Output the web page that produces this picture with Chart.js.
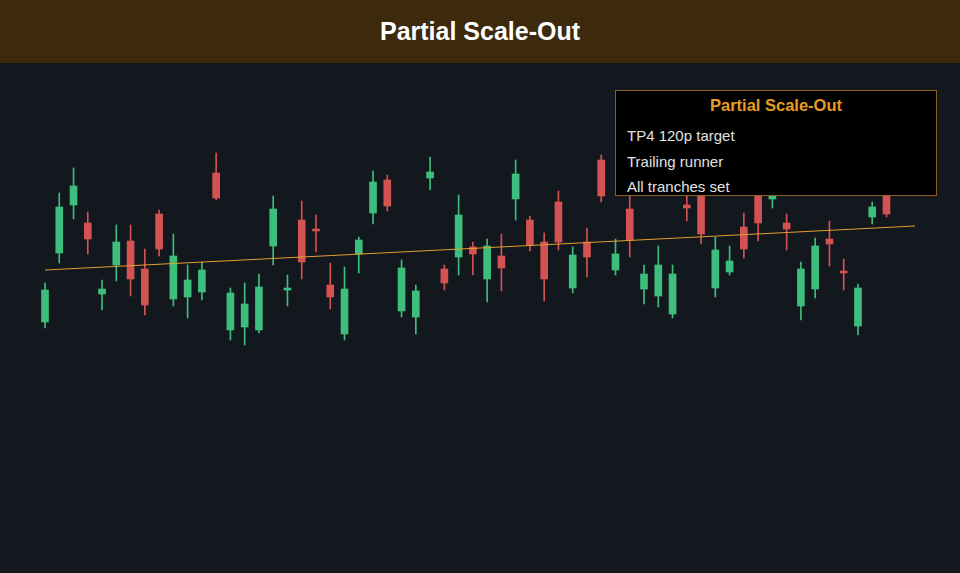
<!DOCTYPE html>
<html>
<head>
<meta charset="utf-8">
<script src="https://cdn.jsdelivr.net/npm/chart.js@4.4.1/dist/chart.umd.min.js"></script>
<style>
  html, body { margin: 0; padding: 0; background: #13171e; width: 960px; height: 573px; overflow: hidden; font-family: "Liberation Sans", Arial, sans-serif; }
  .header { position: absolute; left: 0; top: 0; width: 960px; height: 63px; background: #3d2a0d; color: #fff; font-weight: bold; font-size: 25px; text-align: center; line-height: 63px; }
  .chart-wrap { position: absolute; left: 0; top: 63px; width: 960px; height: 510px; }
  .legend-box { position: absolute; left: 615px; top: 90px; width: 320px; height: 104px; background: #000; border: 1px solid #8a5f1e; }
  .legend-title { color: #e89b1f; font-weight: bold; font-size: 16.5px; text-align: center; margin-top: 5px; }
  .legend-item { color: #e2e2e2; font-size: 15px; margin-left: 11px; height: 25.5px; line-height: 25.5px; }
  .legend-list { margin-top: 8px; }
</style>
</head>
<body>
<div class="header">Partial Scale-Out</div>
<div class="chart-wrap"><canvas id="chart" width="960" height="510"></canvas></div>
<div class="legend-box">
  <div class="legend-title">Partial Scale-Out</div>
  <div class="legend-list">
    <div class="legend-item">TP4 120p target</div>
    <div class="legend-item">Trailing runner</div>
    <div class="legend-item">All tranches set</div>
  </div>
</div>
<script>
// OHLC
const opens = [
  1.0878, 1.0947, 1.0995, 1.0977, 1.0906, 1.0935, 1.0959, 1.0931, 1.0986, 1.0901,
  1.0903, 1.0908, 1.1027, 1.0870, 1.0873, 1.0870, 1.0954, 1.0910, 1.0980, 1.0971,
  1.0915, 1.0866, 1.0946, 1.0987, 1.1020, 1.0889, 1.0883, 1.1022, 1.0931, 1.0943,
  1.0953, 1.0921, 1.0944, 1.1001, 1.0980, 1.0958, 1.0998, 1.0912, 1.0958, 1.1040,
  1.0930, 1.0991, 1.0911, 1.0904, 1.0886, 1.0995, 1.1020, 1.0912, 1.0928, 1.0973,
  1.1010, 1.1001, 1.0977, 1.0894, 1.0911, 1.0961, 1.0929, 1.0874, 1.0983, 1.1012
];
const highs = [
  1.0917, 1.1007, 1.1032, 1.0988, 1.0920, 1.0975, 1.0975, 1.0951, 1.0990, 1.0966,
  1.0935, 1.0938, 1.1047, 1.0912, 1.0917, 1.0926, 1.1004, 1.0925, 1.0999, 1.0985,
  1.0937, 1.0933, 1.0963, 1.1029, 1.1025, 1.0940, 1.0915, 1.1043, 1.0935, 1.1005,
  1.0958, 1.0961, 1.0966, 1.1040, 1.0984, 1.0967, 1.1009, 1.0953, 1.0972, 1.1045,
  1.0961, 1.1010, 1.0935, 1.0954, 1.0935, 1.1015, 1.1035, 1.0963, 1.0954, 1.0987,
  1.1025, 1.1020, 1.0986, 1.0938, 1.0962, 1.0979, 1.0941, 1.0916, 1.0998, 1.1025
];
const lows = [
  1.0872, 1.0937, 1.0981, 1.0946, 1.0890, 1.0919, 1.0904, 1.0885, 1.0944, 1.0894,
  1.0882, 1.0900, 1.1000, 1.0860, 1.0855, 1.0867, 1.0935, 1.0894, 1.0921, 1.0948,
  1.0891, 1.0860, 1.0927, 1.0976, 1.0989, 1.0883, 1.0866, 1.1010, 1.0910, 1.0925,
  1.0925, 1.0898, 1.0909, 1.0980, 1.0949, 1.0899, 1.0950, 1.0907, 1.0923, 1.0998,
  1.0925, 1.0943, 1.0896, 1.0893, 1.0882, 1.0979, 1.0956, 1.0903, 1.0925, 1.0942,
  1.0959, 1.0992, 1.0950, 1.0880, 1.0902, 1.0934, 1.0910, 1.0865, 1.0976, 1.0983
];
const closes = [
  1.0910, 1.0993, 1.1014, 1.0961, 1.0911, 1.0958, 1.0921, 1.0895, 1.0951, 1.0944,
  1.0920, 1.0930, 1.1002, 1.0907, 1.0896, 1.0913, 1.0991, 1.0912, 1.0938, 1.0969,
  1.0903, 1.0911, 1.0960, 1.1018, 1.0994, 1.0932, 1.0909, 1.1028, 1.0917, 1.0985,
  1.0946, 1.0954, 1.0932, 1.1026, 1.0955, 1.0921, 1.0958, 1.0945, 1.0943, 1.1004,
  1.0946, 1.0960, 1.0926, 1.0935, 1.0926, 1.0992, 1.0966, 1.0950, 1.0939, 1.0951,
  1.0977, 1.1008, 1.0971, 1.0931, 1.0954, 1.0956, 1.0927, 1.0912, 1.0993, 1.0986
];

// trend line end points (first bar, two bars past the last candle)
const trend_start = 1.0930
const trend_end = 1.0974

const green = 'rgb(61,190,124)'
const red = 'rgb(211,82,82)'

let labels = []
for (let i = 0; i < opens.length + 2; i++) {
    labels.push('' + (i + 1))
}

let bodies = []
let wicks = []
let colors = []
for (let i = 0; i < opens.length; i++) {
    bodies.push([opens[i], closes[i]])
    wicks.push([lows[i], highs[i]])
    colors.push(closes[i] >= opens[i] ? green : red)
}

const config = {
    type: 'bar',
    data: {
        labels: labels,
        datasets: [
            {
                type: 'line',
                data: [{x: labels[0], y: trend_start}, {x: labels[labels.length - 1], y: trend_end}],
                borderColor: 'rgb(226,160,46)',
                borderWidth: 1,
                pointRadius: 0,
                order: 0,
                clip: false
            },
            {
                data: bodies,
                backgroundColor: colors,
                borderWidth: 0,
                barThickness: 7,
                minBarLength: 2,
                grouped: false,
                order: 1,
                clip: false
            },
            {
                data: wicks,
                backgroundColor: colors,
                borderWidth: 0,
                barThickness: 1,
                grouped: false,
                order: 2,
                clip: false
            }
        ]
    },
    options: {
        responsive: false,
        animation: false,
        layout: {padding: {left: 45, right: 45, top: 37, bottom: 23}},
        plugins: {legend: {display: false}, tooltip: {enabled: false}},
        scales: {
            x: {display: false, offset: false},
            y: {display: false, min: 1.0650, max: 1.1100}
        }
    }
}

new Chart(document.getElementById('chart'), config)
</script>
</body>
</html>
